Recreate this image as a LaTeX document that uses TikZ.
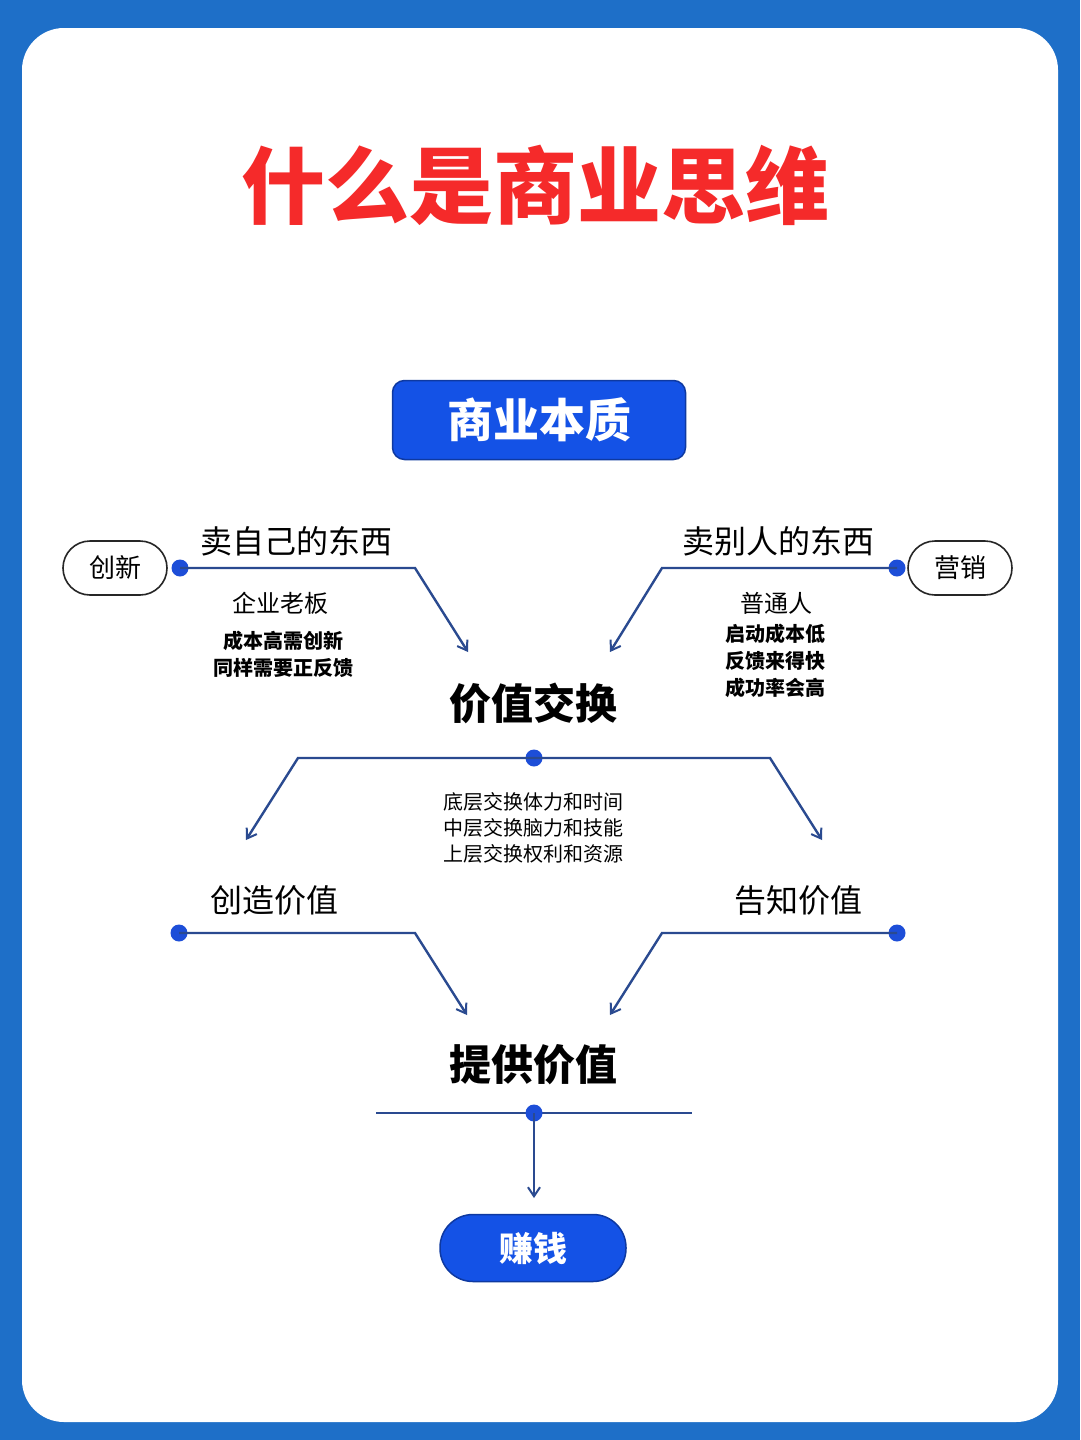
\documentclass[tikz,border=0pt]{standalone}
\usepackage{fontspec}
\newfontfamily\cjk{Noto Sans CJK SC}
\usetikzlibrary{arrows.meta}
\definecolor{frame}{HTML}{1E6FC8}
\definecolor{btn}{HTML}{1452E6}
\definecolor{ln}{HTML}{2A4A90}
\definecolor{dotc}{HTML}{1D4ED8}
\definecolor{ttl}{HTML}{F52A2A}
\tikzset{
 conn/.style={draw=ln,line width=2.4pt,-{Straight Barb[length=9pt,width=12pt,line width=2pt]}},
 plain/.style={draw=ln,line width=2.4pt},
 dotn/.style={circle,fill=dotc,inner sep=0pt,minimum size=17pt},
 txt/.style={font=\cjk,text=black,align=center,inner sep=0pt},
 btnbox/.style={fill=btn,draw=btn!70!black,line width=1.5pt,text=white,font=\cjk\bfseries,inner sep=0pt},
 oval/.style={draw=black!85,line width=1.6pt,rounded corners=27pt,minimum width=104pt,minimum height=54pt,font=\cjk,fontscale/.style={}},
}
\begin{document}
\begin{tikzpicture}[x=1pt,y=-1pt]
\fill[frame] (0,0) rectangle (1080,1440);
\fill[white,rounded corners=42pt] (22,28) rectangle (1058,1422);
\useasboundingbox (0,0) rectangle (1080,1440);
\node[txt,text=ttl,font=\cjk\bfseries\fontsize{84}{90}\selectfont] (title) at (535,185) {什么是商业思维};
\node[btnbox,rounded corners=12pt,minimum width=293pt,minimum height=79pt,font=\cjk\bfseries\fontsize{46}{50}\selectfont] (top) at (539,420) {商业本质};
% upper left
\node[oval,font=\cjk\fontsize{26}{30}\selectfont] (cx) at (115,568) {创新};
\node[dotn] (d1) at (180,568) {};
\coordinate (b1) at (415,568);
\coordinate (a1) at (468,652);
\draw[conn] (d1.center) -- (b1) -- (a1);
\node[txt,font=\cjk\fontsize{32}{36}\selectfont] (l1) at (296,541) {卖自己的东西};
\node[txt,font=\cjk\fontsize{24}{28}\selectfont] (l1a) at (280,603) {企业老板};
\node[txt,font=\cjk\bfseries\fontsize{20}{27}\selectfont] (l1b) at (283,654) {成本高需创新\\同样需要正反馈};
% upper right
\node[oval,font=\cjk\fontsize{26}{30}\selectfont] (yx) at (960,568) {营销};
\node[dotn] (d2) at (897,568) {};
\coordinate (b2) at (662,568);
\coordinate (a2) at (610,652);
\draw[conn] (d2.center) -- (b2) -- (a2);
\node[txt,font=\cjk\fontsize{32}{36}\selectfont] (l2) at (778,541) {卖别人的东西};
\node[txt,font=\cjk\fontsize{24}{28}\selectfont] (l2a) at (776,603) {普通人};
\node[txt,font=\cjk\bfseries\fontsize{20}{27}\selectfont] (l2b) at (775,661) {启动成本低\\反馈来得快\\成功率会高};
% middle
\node[txt,font=\cjk\bfseries\fontsize{42}{46}\selectfont] (jz) at (533,703) {价值交换};
\node[dotn] (d3) at (534,758) {};
\coordinate (b3l) at (298,758);
\coordinate (b3r) at (770,758);
\coordinate (a3l) at (246,840);
\coordinate (a3r) at (822,840);
\draw[conn] (d3.center) -- (b3l) -- (a3l);
\draw[conn] (d3.center) -- (b3r) -- (a3r);
\node[txt,font=\cjk\fontsize{20}{26}\selectfont] (mid) at (533,828) {底层交换体力和时间\\中层交换脑力和技能\\上层交换权利和资源};
% lower
\node[txt,font=\cjk\fontsize{32}{36}\selectfont] (cz) at (274,900) {创造价值};
\node[txt,font=\cjk\fontsize{32}{36}\selectfont] (gz) at (798,900) {告知价值};
\node[dotn] (d4) at (179,933) {};
\coordinate (b4) at (415,933);
\coordinate (a4) at (467,1015);
\draw[conn] (d4.center) -- (b4) -- (a4);
\node[dotn] (d5) at (897,933) {};
\coordinate (b5) at (662,933);
\coordinate (a5) at (610,1015);
\draw[conn] (d5.center) -- (b5) -- (a5);
\node[txt,font=\cjk\bfseries\fontsize{42}{46}\selectfont] (tg) at (533,1065) {提供价值};
\coordinate (hl) at (376,1113);
\coordinate (hr) at (692,1113);
\draw[plain] (hl) -- (hr);
\node[dotn] (d6) at (534,1113) {};
\node[btnbox,rounded corners=33pt,minimum width=186pt,minimum height=67pt,font=\cjk\bfseries\fontsize{34}{38}\selectfont] (zq) at (533,1248) {赚钱};
\draw[conn] (d6.center) -- (534,1198);
\end{tikzpicture}
\end{document}
